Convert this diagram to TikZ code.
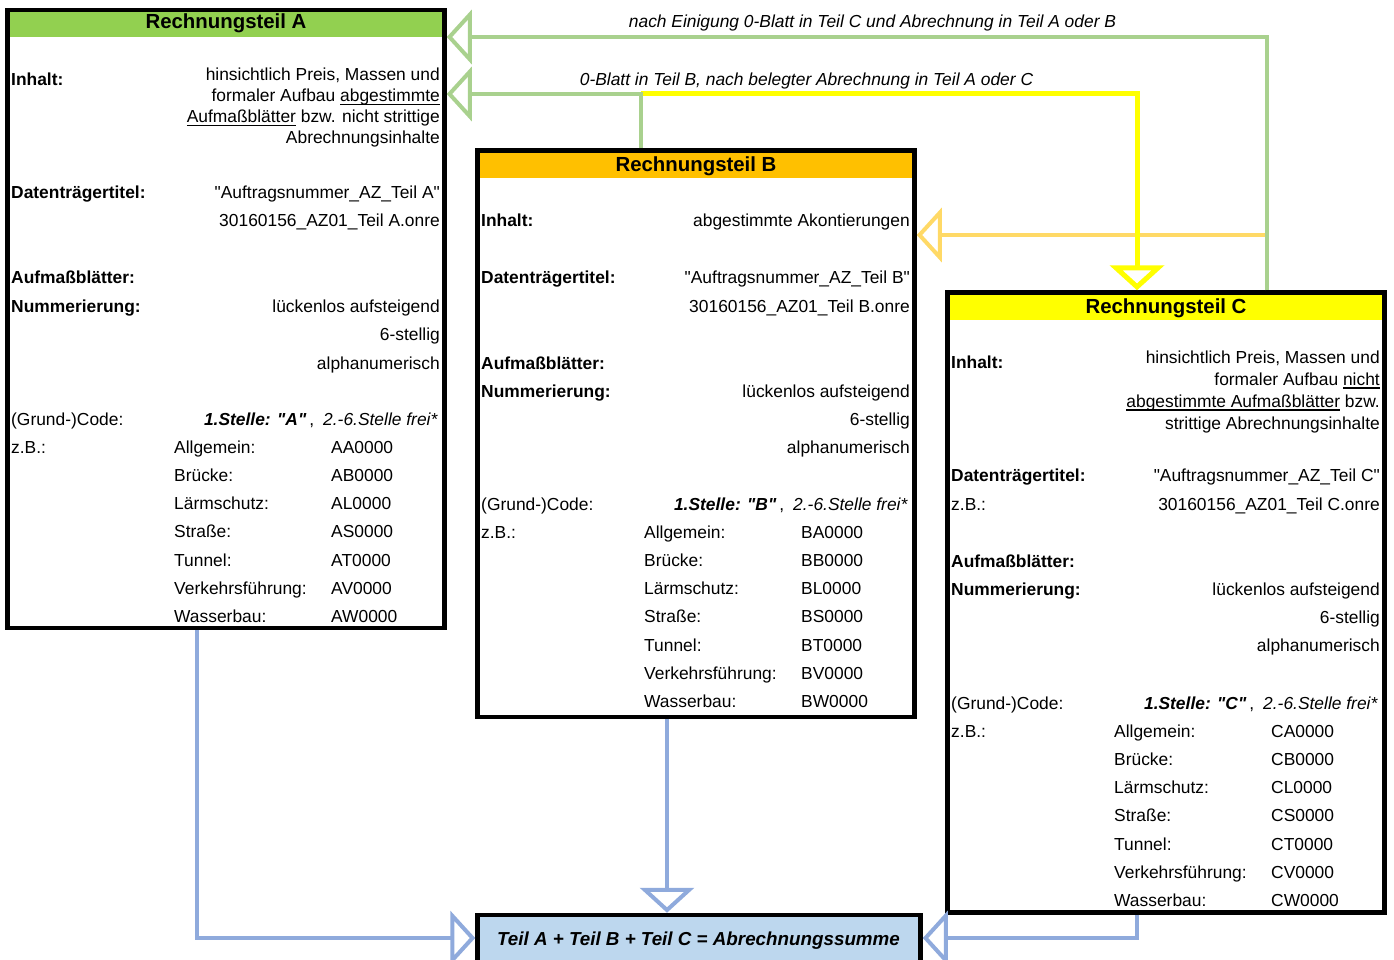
\documentclass[tikz,border=0pt]{standalone}
\usepackage{fontspec}
\setmainfont{Liberation Sans}[Ligatures=TeXOff]
\usetikzlibrary{arrows.meta,calc}
\definecolor{hdA}{HTML}{92D050}
\definecolor{hdB}{HTML}{FFC000}
\definecolor{hdC}{HTML}{FFFF00}
\definecolor{sumfill}{HTML}{BDD7EE}
\definecolor{lgreen}{HTML}{A9D18E}
\definecolor{lyellow}{HTML}{FFFF00}
\definecolor{lorange}{HTML}{FFD966}
\definecolor{lblue}{HTML}{8FAADC}
\newcommand\qq{\char"0022\relax}
\newcommand\myul[1]{\setbox0\hbox{#1}\rlap{\rule[-3.5pt]{\wd0}{1.2pt}}\box0\relax}
\newcommand\codeline[1]{\textbf{\textit{1.Stelle: \qq#1\qq}}\,,\hspace{9pt}\textit{2.-6.Stelle frei*}}
\tikzset{
  body/.style={font=\fontsize{17.4}{21}\selectfont, inner sep=0pt, text=black},
  L/.style={body, anchor=base west},
  R/.style={body, anchor=base east},
  lab/.style={body, anchor=base, font=\itshape\fontsize{17.4}{21}\selectfont},
  ttl/.style={font=\bfseries\fontsize{20.4}{24}\selectfont, inner sep=0pt, anchor=base},
  boxst/.style={draw=black, line width=4.5pt, rectangle, inner sep=0pt, anchor=north west},
  conn/.style={line width=4pt, -{Triangle[open, length=25pt, width=54pt]}},
}
\newcommand\rows[5]{%
  \foreach \rlab/\rcd [count=\i from 0] in {Allgemein:/A, Brücke:/B, Lärmschutz:/L, Straße:/S, Tunnel:/T, Verkehrsführung:/V, Wasserbau:/W} {
    \node[L] (#1l\i) at (#2, #4+28.33*\i) {\rlab};
    \node[L] (#1c\i) at (#3, #4+28.33*\i) {#5\rcd0000};
  }}
\begin{document}
\begin{tikzpicture}[x=1pt,y=-1pt]
\useasboundingbox (0,0) rectangle (1394,960);
\clip (0,0) rectangle (1394,960);
% header fills
\fill[hdA] (7.5,10) rectangle (444.5,37);
\fill[hdB] (477.5,150.5) rectangle (914.5,178);
\fill[hdC] (947.5,292.5) rectangle (1384.5,320);
\fill[sumfill] (477.5,915) rectangle (920.5,1000);
% boxes
\node[boxst, minimum width=437pt, minimum height=618pt] (A) at (5.25,7.75) {};
\node[boxst, minimum width=437pt, minimum height=566.5pt] (B) at (475.25,148.25) {};
\node[boxst, minimum width=437pt, minimum height=620pt] (C) at (945.25,290.25) {};
\node[boxst, minimum width=443pt, minimum height=85pt] (S) at (475.25,912.75) {};
% titles
\node[ttl] (tA) at (226,28.5) {Rechnungsteil A};
\node[ttl] (tB) at (696,172) {Rechnungsteil B};
\node[ttl] (tC) at (1166,313) {Rechnungsteil C};
\node[font=\bfseries\itshape\fontsize{18.8}{22}\selectfont, anchor=base, inner sep=0pt] (sumt) at (698.5,945) {Teil A + Teil B + Teil C = Abrechnungssumme};
% connector coordinates
\coordinate (g1) at (1267,37);
\coordinate (g2) at (641,94);
\coordinate (y3) at (1137,0);
\coordinate (o4) at (1265,235);
\coordinate (b5) at (197,938);
\coordinate (b6) at (667,0);
\coordinate (b7) at (1137,938);
% connectors
\draw[conn, lorange] (o4) -- (B.east |- o4);
\draw[conn, lyellow, line width=5pt] (g2) -| (C.north -| y3);
\draw[conn, lgreen] (C.north -| g1) |- (A.east |- g1);
\draw[conn, lgreen] (B.north -| g2) |- (A.east |- g2);
\draw[conn, lblue] (A.south -| b5) |- (S.west |- b5);
\draw[conn, lblue] (B.south -| b6) -- (S.north -| b6);
\draw[conn, lblue] (C.south -| b7) |- (S.east |- b7);
% connector labels
\node[lab] (lab1) at (872.5,28) {nach Einigung 0-Blatt in Teil C und Abrechnung in Teil A oder B};
\node[lab] (lab2) at (806.5,86) {0-Blatt in Teil B, nach belegter Abrechnung in Teil A oder C};
% Box A
\node[L] (aInhL) at (11,86) {\textbf{Inhalt:}};
\node[R] (aInh1) at (440,81) {hinsichtlich Preis, Massen und};
\node[R] (aInh2) at (440,102) {formaler Aufbau \myul{abgestimmte}};
\node[R] (aInh3) at (440,123) {\myul{Aufmaßblätter} bzw. nicht strittige};
\node[R] (aInh4) at (440,144) {Abrechnungsinhalte};
\node[L] (aDtL) at (11,199) {\textbf{Datenträgertitel:}};
\node[R] (aDt1) at (440,198) {\qq Auftragsnummer\_AZ\_Teil A\qq};
\node[R] (aDt2) at (440,226) {30160156\_AZ01\_Teil A.onre};
\node[L] (aAuf) at (11,283) {\textbf{Aufmaßblätter:}};
\node[L] (aNum) at (11,312) {\textbf{Nummerierung:}};
\node[R] (aN1) at (440,312) {lückenlos aufsteigend};
\node[R] (aN2) at (440,340) {6-stellig};
\node[R] (aN3) at (440,369) {alphanumerisch};
\node[L] (aCode) at (11,425) {(Grund-)Code:};
\node[R] (aCd) at (438,425) {\codeline{A}};
\node[L] (aZB) at (11,453) {z.B.:};
\rows{a}{174}{331}{453}{A}
% Box B
\node[L] (bInhL) at (481,226) {\textbf{Inhalt:}};
\node[R] (bInh1) at (910,226) {abgestimmte Akontierungen};
\node[L] (bDtL) at (481,283) {\textbf{Datenträgertitel:}};
\node[R] (bDt1) at (910,283) {\qq Auftragsnummer\_AZ\_Teil B\qq};
\node[R] (bDt2) at (910,312) {30160156\_AZ01\_Teil B.onre};
\node[L] (bAuf) at (481,369) {\textbf{Aufmaßblätter:}};
\node[L] (bNum) at (481,397) {\textbf{Nummerierung:}};
\node[R] (bN1) at (910,397) {lückenlos aufsteigend};
\node[R] (bN2) at (910,425) {6-stellig};
\node[R] (bN3) at (910,453) {alphanumerisch};
\node[L] (bCode) at (481,510) {(Grund-)Code:};
\node[R] (bCd) at (908,510) {\codeline{B}};
\node[L] (bZB) at (481,538) {z.B.:};
\rows{b}{644}{801}{538}{B}
% Box C
\node[L] (cInhL) at (951,368) {\textbf{Inhalt:}};
\node[R] (cInh1) at (1380,363) {hinsichtlich Preis, Massen und};
\node[R] (cInh2) at (1380,385) {formaler Aufbau \myul{nicht}};
\node[R] (cInh3) at (1380,407) {\myul{abgestimmte Aufmaßblätter} bzw.};
\node[R] (cInh4) at (1380,429) {strittige Abrechnungsinhalte};
\node[L] (cDtL) at (951,481) {\textbf{Datenträgertitel:}};
\node[R] (cDt1) at (1380,481) {\qq Auftragsnummer\_AZ\_Teil C\qq};
\node[L] (cZB1) at (951,510) {z.B.:};
\node[R] (cDt2) at (1380,510) {30160156\_AZ01\_Teil C.onre};
\node[L] (cAuf) at (951,567) {\textbf{Aufmaßblätter:}};
\node[L] (cNum) at (951,595) {\textbf{Nummerierung:}};
\node[R] (cN1) at (1380,595) {lückenlos aufsteigend};
\node[R] (cN2) at (1380,623) {6-stellig};
\node[R] (cN3) at (1380,651) {alphanumerisch};
\node[L] (cCode) at (951,709) {(Grund-)Code:};
\node[R] (cCd) at (1378,709) {\codeline{C}};
\node[L] (cZB) at (951,737) {z.B.:};
\rows{c}{1114}{1271}{737}{C}
\end{tikzpicture}
\end{document}
